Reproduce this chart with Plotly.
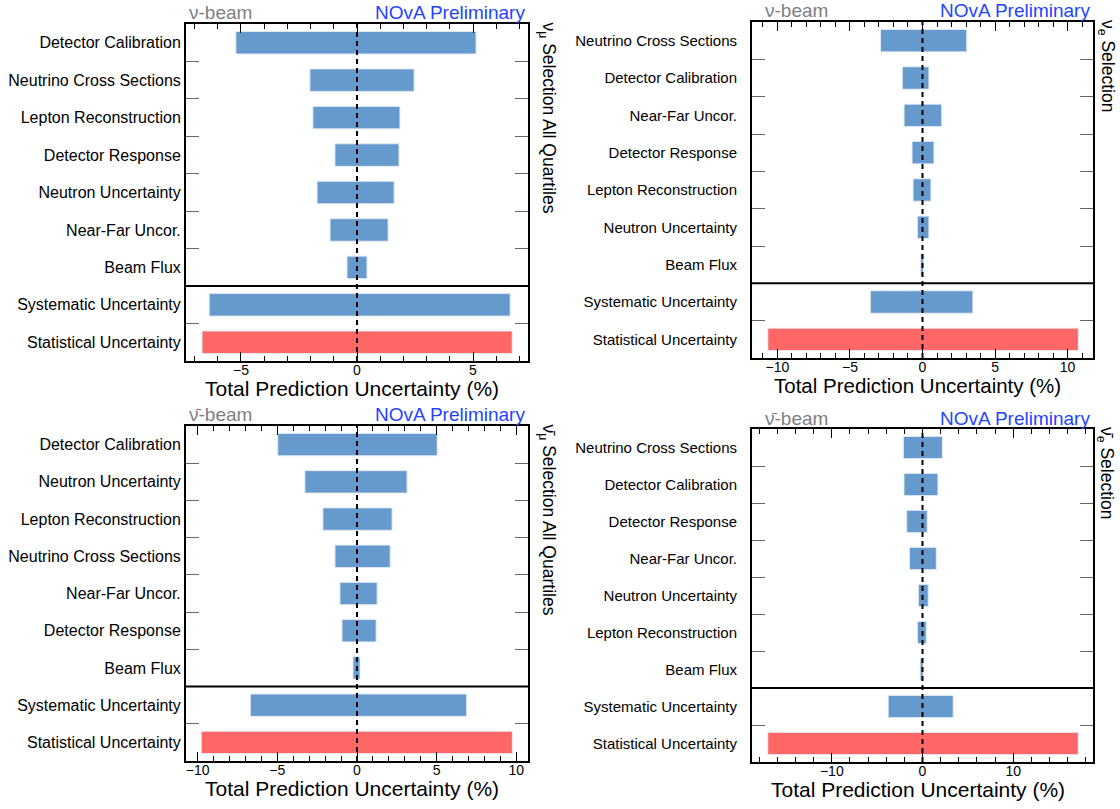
import plotly.graph_objects as go

W, H = 1120, 809

# ---------------- data ----------------
cats_numu_fhc = ["Detector Calibration", "Neutrino Cross Sections", "Lepton Reconstruction",
                 "Detector Response", "Neutron Uncertainty", "Near-Far Uncor.", "Beam Flux",
                 "Systematic Uncertainty", "Statistical Uncertainty"]
low_numu_fhc = [-5.22, -2.03, -1.90, -0.95, -1.72, -1.16, -0.43, -6.37, -6.68]
high_numu_fhc = [5.13, 2.46, 1.85, 1.81, 1.60, 1.34, 0.43, 6.60, 6.69]

cats_nue_fhc = ["Neutrino Cross Sections", "Detector Calibration", "Near-Far Uncor.",
                "Detector Response", "Lepton Reconstruction", "Neutron Uncertainty", "Beam Flux",
                "Systematic Uncertainty", "Statistical Uncertainty"]
low_nue_fhc = [-2.89, -1.39, -1.27, -0.72, -0.65, -0.35, -0.12, -3.59, -10.66]
high_nue_fhc = [3.05, 0.44, 1.32, 0.79, 0.58, 0.44, 0.07, 3.47, 10.74]

cats_numu_rhc = ["Detector Calibration", "Neutron Uncertainty", "Lepton Reconstruction",
                 "Neutrino Cross Sections", "Near-Far Uncor.", "Detector Response", "Beam Flux",
                 "Systematic Uncertainty", "Statistical Uncertainty"]
low_numu_rhc = [-4.97, -3.27, -2.14, -1.38, -1.07, -0.94, -0.25, -6.69, -9.77]
high_numu_rhc = [5.03, 3.14, 2.20, 2.08, 1.26, 1.20, 0.19, 6.88, 9.75]

cats_nue_rhc = ["Neutrino Cross Sections", "Detector Calibration", "Detector Response",
                "Near-Far Uncor.", "Neutron Uncertainty", "Lepton Reconstruction", "Beam Flux",
                "Systematic Uncertainty", "Statistical Uncertainty"]
low_nue_rhc = [-2.11, -2.04, -1.74, -1.44, -0.44, -0.56, -0.26, -3.78, -17.06]
high_nue_rhc = [2.19, 1.70, 0.52, 1.52, 0.63, 0.41, 0.07, 3.38, 17.17]

x_ranges = [7.37, 11.75, 10.73, 18.8]
major_dticks = [5, 5, 5, 10]
minor_dticks = [1, 1, 1, 2]
beam_labels = ["ν-beam", "ν-beam", "ν̄-beam", "ν̄-beam"]
sel_labels = ["ν<sub>μ</sub> Selection All Quartiles", "ν<sub>e</sub> Selection",
              "ν̄<sub>μ</sub> Selection All Quartiles", "ν̄<sub>e</sub> Selection"]
x_title = "Total Prediction Uncertainty (%)"

# ---------------- layout geometry (pixels) ----------------
FONT = "Liberation Sans, Arial, Helvetica, sans-serif"
BLUE = "#6699cc"
RED = "#ff6666"

panels = [
    dict(cats=cats_numu_fhc, low=low_numu_fhc, high=high_numu_fhc, px=(186, 528), py=(24, 361),
         lab=16, tick=14, ttl=21, stand=0, sel_dx=19),
    dict(cats=cats_nue_fhc, low=low_nue_fhc, high=high_nue_fhc, px=(752, 1093), py=(22, 358),
         lab=15, tick=14, ttl=20.5, stand=10, sel_dx=13),
    dict(cats=cats_numu_rhc, low=low_numu_rhc, high=high_numu_rhc, px=(186, 528), py=(426, 761),
         lab=16, tick=14, ttl=21, stand=0, sel_dx=19),
    dict(cats=cats_nue_rhc, low=low_nue_rhc, high=high_nue_rhc, px=(752, 1093), py=(429, 762),
         lab=15, tick=14, ttl=21, stand=10, sel_dx=13),
]


def pxx(v):
    return v / W


def pxy(v):
    return 1 - v / H


fig = go.Figure()
annotations = []
shapes = []

for i, p in enumerate(panels):
    n = i + 1
    xa = "x" if n == 1 else f"x{n}"
    ya = "y" if n == 1 else f"y{n}"
    colors = [BLUE] * (len(p["cats"]) - 1) + [RED]
    widths = [h - l for l, h in zip(p["low"], p["high"])]
    fig.add_trace(go.Bar(
        y=p["cats"], x=widths, base=p["low"], orientation="h",
        marker=dict(color=colors, line=dict(color="rgba(225,235,248,0.9)", width=1)),
        width=0.6, xaxis=xa, yaxis=ya, showlegend=False, hoverinfo="skip"))

    r = x_ranges[i]
    xkey = "xaxis" if n == 1 else f"xaxis{n}"
    ykey = "yaxis" if n == 1 else f"yaxis{n}"
    fig.update_layout({
        xkey: dict(
            domain=[pxx(p["px"][0]), pxx(p["px"][1])], anchor=ya, range=[-r, r],
            showline=True, linecolor="black", linewidth=2, mirror="ticks",
            ticks="inside", ticklen=9, tickwidth=1, tickcolor="black",
            dtick=major_dticks[i], tick0=0, showgrid=False, zeroline=False,
            ticklabelstandoff=-5,
            tickfont=dict(family=FONT, size=p["tick"], color="black"),
            minor=dict(dtick=minor_dticks[i], ticks="inside", ticklen=5,
                       tickcolor="black", showgrid=False),
            fixedrange=True,
        ),
        ykey: dict(
            domain=[pxy(p["py"][1]), pxy(p["py"][0])], anchor=xa, type="category",
            categoryorder="array", categoryarray=p["cats"], range=[8.5, -0.5],
            showline=True, linecolor="black", linewidth=2, mirror="ticks",
            ticks="inside", tickson="boundaries", ticklen=13, tickwidth=1,
            tickcolor="#666666", showgrid=False, zeroline=False,
            ticklabelstandoff=p["stand"],
            tickfont=dict(family=FONT, size=p["lab"], color="black"),
            fixedrange=True,
        ),
    })

    # dashed zero line
    shapes.append(dict(type="line", xref=xa, yref=f"{ya} domain", x0=0, x1=0, y0=0, y1=1,
                       line=dict(color="black", width=2, dash="5px,4px"), layer="above"))
    # separator between individual systematics and totals
    shapes.append(dict(type="line", xref=f"{xa} domain", yref=ya, x0=0, x1=1, y0=6.5, y1=6.5,
                       line=dict(color="black", width=2), layer="above"))

    x0, x1 = p["px"]
    y0, y1 = p["py"]
    # beam label
    annotations.append(dict(text=beam_labels[i], x=pxx(x0 + (1 if i % 2 == 0 else 11)),
                            y=pxy(y0 - 11), xref="paper", yref="paper",
                            xanchor="left", yanchor="middle", showarrow=False,
                            font=dict(family=FONT, size=19, color="#808080")))
    # NOvA Preliminary
    annotations.append(dict(text="NOvA Preliminary", x=pxx(x1 - 1), y=pxy(y0 - 11),
                            xref="paper", yref="paper", xanchor="right", yanchor="middle",
                            showarrow=False, font=dict(family=FONT, size=19, color="#1f44ff")))
    # selection label (rotated)
    annotations.append(dict(text=sel_labels[i], x=pxx(x1 + p["sel_dx"]), y=pxy(y0 - 4),
                            xref="paper", yref="paper", xanchor="center", yanchor="top",
                            textangle=90, showarrow=False,
                            font=dict(family=FONT, size=17.5, color="black")))
    # x axis title
    annotations.append(dict(text=x_title, x=pxx((x0 + x1) / 2 - 5), y=pxy(y1 + 27),
                            xref="paper", yref="paper", xanchor="center", yanchor="middle",
                            showarrow=False, font=dict(family=FONT, size=p["ttl"], color="black")))

fig.update_layout(
    width=W, height=H, autosize=False,
    margin=dict(l=0, r=0, t=0, b=0),
    paper_bgcolor="white", plot_bgcolor="white",
    barmode="overlay", bargap=0.4,
    annotations=annotations, shapes=shapes,
    font=dict(family=FONT, color="black"),
)

fig.write_html("out.html",
               config={"displayModeBar": False, "staticPlot": True},
               post_script="document.body.style.margin='0px';document.body.style.padding='0px';")
